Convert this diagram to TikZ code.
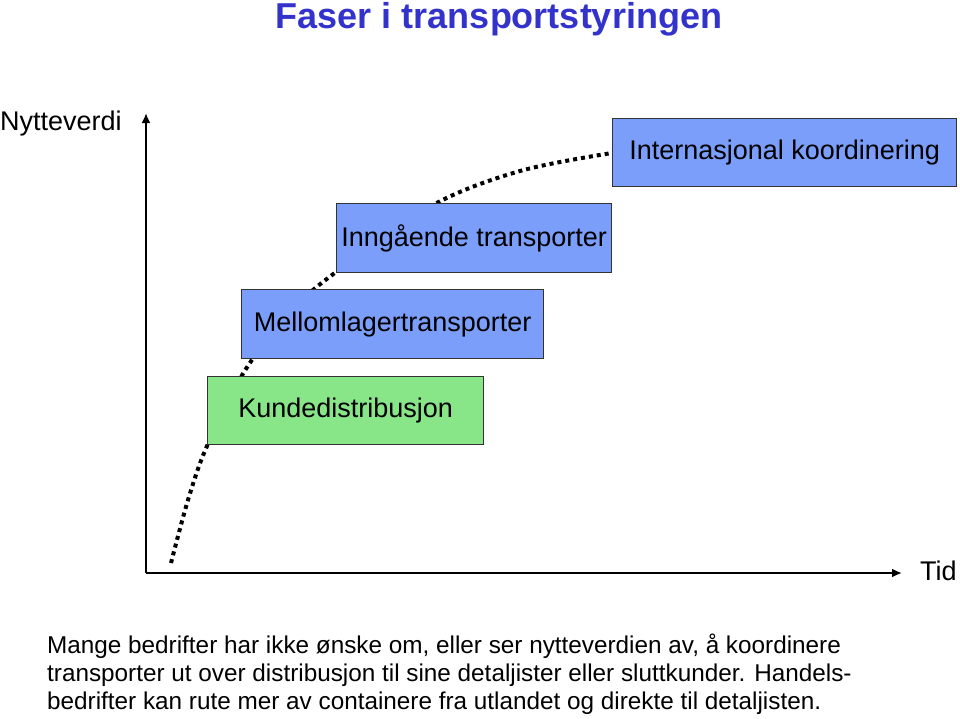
\documentclass[tikz,border=0pt]{standalone}
\usepackage{fontspec}
\setmainfont{Liberation Sans}
\begin{document}
\begin{tikzpicture}[x=1pt,y=-1pt,
  phase/.style={draw=black!80, line width=1.3pt, fill=boxblue, inner sep=0pt, anchor=north west},
  lbl/.style={font=\fontsize{27}{32}\selectfont, inner sep=0pt},
  axis/.style={line width=2.6pt, -{Latex[length=10pt,width=9pt]}},
  dots/.style={line width=4pt, dash pattern=on 4pt off 4pt}]
\usetikzlibrary{arrows.meta}
\definecolor{boxblue}{RGB}{122,158,250}
\definecolor{boxgreen}{RGB}{136,230,136}
\definecolor{titleblue}{RGB}{51,51,204}
\useasboundingbox (0,0) rectangle (960,718);
% title
\node[font=\bfseries\fontsize{36}{40}\selectfont, text=titleblue, inner sep=0pt] (title) at (499,19) {Faser i transportstyringen};
% dotted curve (behind boxes)
\draw[dots] plot[smooth, tension=0.55] coordinates {(171,563) (188,500) (207,446) (244,372) (290,312) (336,272) (433,205) (520,171) (612,153)};
% axes
\coordinate (origin) at (146,573);
\coordinate (ytip) at (146,113);
\coordinate (xtip) at (902,573);
\draw[axis] (origin) -- (ytip);
\draw[axis] (origin) -- (xtip);
\node[lbl, anchor=west] (ylab) at (0,124) {Nytteverdi};
\node[lbl, anchor=west] (xlab) at (920,571) {Tid};
% boxes
\node[phase, minimum width=344pt, minimum height=68pt] (b4) at (612,118) {};
\node[lbl] at (b4.center) {Internasjonal koordinering};
\node[phase, minimum width=275pt, minimum height=69pt] (b3) at (336,203) {};
\node[lbl] at (b3.center) {Inngående transporter};
\node[phase, minimum width=302pt, minimum height=69pt] (b2) at (241,289) {};
\node[lbl] at (b2.center) {Mellomlagertransporter};
\node[phase, fill=boxgreen, minimum width=276pt, minimum height=68pt] (b1) at (207,376) {};
\node[lbl] at (b1.center) {Kundedistribusjon};
% bottom text
\node[anchor=north west, inner sep=0pt, align=left, font=\fontsize{24.3}{27.8}\selectfont] (txt) at (47,634) {Mange bedrifter har ikke ønske om, eller ser nytteverdien av, å koordinere\\transporter ut over distribusjon til sine detaljister eller sluttkunder. Handels-\\bedrifter kan rute mer av containere fra utlandet og direkte til detaljisten.};
\end{tikzpicture}
\end{document}
